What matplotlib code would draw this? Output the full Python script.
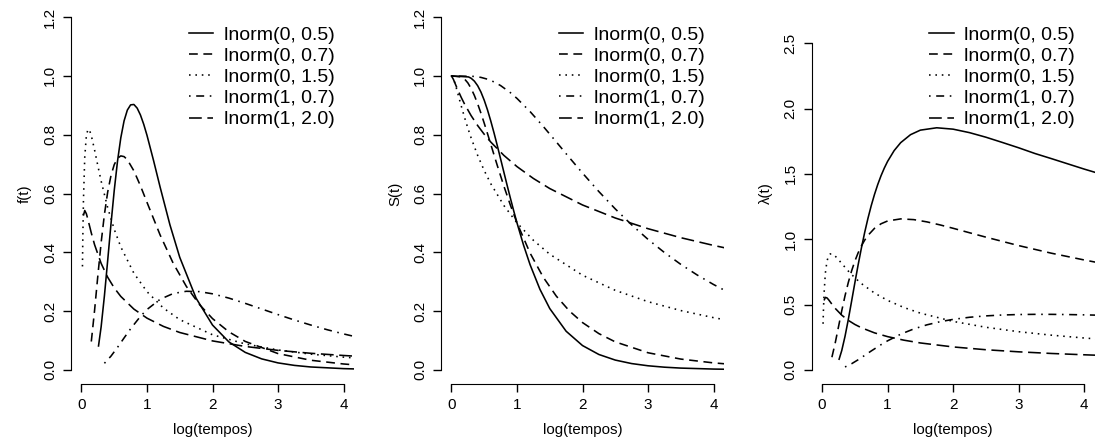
import matplotlib
matplotlib.use('Agg')
import matplotlib.pyplot as plt

plt.rcParams['font.family'] = ['Liberation Sans', 'DejaVu Sans']

rotulos = ['lnorm(0, 0.5)', 'lnorm(0, 0.7)', 'lnorm(0, 1.5)', 'lnorm(1, 0.7)', 'lnorm(1, 2.0)']

# lnorm(0, 0.5)
t_a = [0.26, 0.3, 0.35, 0.4, 0.45, 0.5, 0.55, 0.6, 0.65, 0.7, 0.75, 0.8, 0.85, 0.9, 0.95, 1.0,
       1.1, 1.2, 1.35, 1.5, 1.75, 2.0, 2.25, 2.5, 2.75, 3.0, 3.25, 3.5, 4.0, 4.2]
f_a = [0.0814, 0.1465, 0.2517, 0.3721, 0.4953, 0.6104, 0.7099, 0.7891, 0.8469, 0.8837, 0.9015,
       0.9028, 0.8904, 0.8671, 0.8355, 0.7979, 0.7123, 0.6221, 0.4936, 0.3829, 0.2437, 0.1526,
       0.0952, 0.0595, 0.0375, 0.0238, 0.0153, 0.0099, 0.0043, 0.0031]
s_a = [0.9965, 0.9920, 0.9821, 0.9666, 0.9449, 0.9172, 0.8841, 0.8465, 0.8056, 0.7622, 0.7175,
       0.6723, 0.6274, 0.5834, 0.5409, 0.5, 0.4244, 0.3577, 0.2742, 0.2087, 0.1315, 0.0828,
       0.0524, 0.0334, 0.0215, 0.0140, 0.0092, 0.0061, 0.0028, 0.0021]
h_a = [0.0817, 0.1477, 0.2563, 0.3850, 0.5242, 0.6656, 0.8030, 0.9321, 1.0513, 1.1594, 1.2565,
       1.3428, 1.4192, 1.4862, 1.5447, 1.5958, 1.6783, 1.7392, 1.8002, 1.8349, 1.853, 1.8424,
       1.8158, 1.781, 1.741, 1.700, 1.656, 1.617, 1.537, 1.507]

# lnorm(0, 0.7)
t_b = [0.15, 0.2, 0.25, 0.3, 0.35, 0.4, 0.45, 0.5, 0.55, 0.6, 0.65, 0.7, 0.8, 0.9, 1.0, 1.2,
       1.4, 1.6, 1.8, 2.0, 2.25, 2.5, 3.0, 3.5, 4.0, 4.2]
f_b = [0.0965, 0.2028, 0.3208, 0.4328, 0.5288, 0.6049, 0.6607, 0.6982, 0.7196, 0.7279, 0.7255,
       0.7150, 0.6771, 0.6261, 0.5699, 0.4591, 0.3627, 0.2843, 0.2225, 0.1745, 0.1295, 0.0968,
       0.0555, 0.0328, 0.0201, 0.0166]
s_b = [0.9966, 0.9893, 0.9762, 0.9573, 0.9332, 0.9047, 0.8730, 0.8390, 0.8035, 0.7672, 0.7309,
       0.6948, 0.6250, 0.5599, 0.5, 0.3973, 0.3154, 0.2510, 0.2005, 0.1610, 0.1234, 0.0953,
       0.0583, 0.0368, 0.0238, 0.0202]
h_b = [0.0969, 0.2050, 0.3286, 0.4521, 0.5667, 0.6686, 0.7568, 0.8322, 0.8956, 0.9488, 0.9927,
       1.0291, 1.0833, 1.1183, 1.1398, 1.1556, 1.1501, 1.1328, 1.1097, 1.0838, 1.0497, 1.0160,
       0.9514, 0.8931, 0.8414, 0.822]

# lnorm(0, 1.5)
t_c = [0.015, 0.02, 0.03, 0.05, 0.075, 0.1, 0.125, 0.15, 0.2, 0.25, 0.3, 0.4, 0.5, 0.6, 0.8,
       1.0, 1.25, 1.5, 2.0, 2.5, 3.0, 3.5, 4.0, 4.2]
f_c = [0.3519, 0.4435, 0.5767, 0.7241, 0.7982, 0.8188, 0.8139, 0.7969, 0.7479, 0.6941, 0.6424,
       0.5517, 0.4781, 0.4183, 0.3288, 0.2660, 0.2104, 0.1709, 0.1195, 0.0883, 0.0678, 0.0536,
       0.0434, 0.0401]
s_c = [0.9974, 0.9955, 0.9903, 0.9771, 0.9579, 0.9376, 0.9172, 0.8970, 0.8583, 0.8223, 0.7889,
       0.7294, 0.6780, 0.6333, 0.5591, 0.5, 0.4409, 0.3935, 0.3220, 0.2706, 0.2320, 0.2018,
       0.1777, 0.1694]
h_c = [0.3528, 0.4455, 0.5823, 0.7411, 0.8333, 0.8733, 0.8874, 0.8884, 0.8713, 0.8441, 0.8143,
       0.7564, 0.7051, 0.6606, 0.5881, 0.5319, 0.4772, 0.4344, 0.3711, 0.3262, 0.2923, 0.2657,
       0.2441, 0.2366]

# lnorm(1, 0.7)
t_d = [0.35, 0.45, 0.55, 0.65, 0.75, 0.9, 1.0, 1.2, 1.4, 1.6, 1.8, 2.0, 2.25, 2.5, 2.75, 3.0,
       3.25, 3.5, 3.75, 4.0, 4.2]
f_d = [0.0224, 0.0467, 0.0766, 0.1086, 0.1399, 0.1820, 0.2054, 0.2401, 0.2598, 0.2674, 0.2662,
       0.2588, 0.2442, 0.2263, 0.2072, 0.1881, 0.1697, 0.1526, 0.1367, 0.1224, 0.1119]
s_d = [0.9983, 0.9949, 0.9888, 0.9795, 0.9671, 0.9429, 0.9234, 0.8786, 0.8284, 0.7755, 0.7220,
       0.6695, 0.6065, 0.5476, 0.4934, 0.4440, 0.3993, 0.3590, 0.3229, 0.2905, 0.2671]
h_d = [0.0224, 0.0469, 0.0774, 0.1108, 0.1447, 0.1930, 0.2225, 0.2733, 0.3136, 0.3448, 0.3687,
       0.3866, 0.4027, 0.4133, 0.4200, 0.4237, 0.4251, 0.4250, 0.4235, 0.4212, 0.4188]

# lnorm(1, 2.0)
t_e = [0.03, 0.05, 0.075, 0.1, 0.15, 0.2, 0.3, 0.4, 0.5, 0.6, 0.8, 1.0, 1.25, 1.5, 2.0, 2.5,
       3.0, 3.5, 4.0, 4.2]
f_e = [0.5251, 0.5422, 0.5309, 0.5102, 0.4657, 0.4258, 0.3623, 0.3151, 0.2788, 0.2499, 0.2068,
       0.1760, 0.1480, 0.1272, 0.0986, 0.0797, 0.0664, 0.0565, 0.0490, 0.0464]
s_e = [0.9879, 0.9771, 0.9637, 0.9507, 0.9263, 0.9040, 0.8648, 0.8310, 0.8014, 0.7750, 0.7296,
       0.6915, 0.6512, 0.6169, 0.5610, 0.5167, 0.4803, 0.4497, 0.4234, 0.4139]
h_e = [0.5315, 0.5549, 0.5509, 0.5367, 0.5028, 0.4710, 0.4190, 0.3792, 0.3479, 0.3225, 0.2834,
       0.2546, 0.2273, 0.2062, 0.1757, 0.1543, 0.1383, 0.1257, 0.1156, 0.1121]

# a sobrevivencia comeca em t = 0 com S = 1
t0 = [0.0]
s0 = [1.0]

tempos = [t_a, t_b, t_c, t_d, t_e]
densidades = [f_a, f_b, f_c, f_d, f_e]
sobrevivencias = [s_a, s_b, s_c, s_d, s_e]
riscos = [h_a, h_b, h_c, h_d, h_e]

estilos = ['-', (0, (5.5, 3.5)), (0, (1, 3)), (0, (1, 3.5, 5, 3.5)), (0, (8, 3.5))]

fig = plt.figure(figsize=(10.95, 4.43), dpi=100)
W, H = 1095.0, 443.0


def painel(x_esq, ylim, yticks, ylab):
    ax = fig.add_axes([x_esq / W, (H - 384) / H, 283 / W, 381 / H])
    ax.set_xlim(-0.16, 4.16)
    ax.set_ylim(*ylim)
    for lado in ['top', 'right']:
        ax.spines[lado].set_visible(False)
    ax.spines['left'].set_bounds(yticks[0], yticks[-1])
    ax.spines['bottom'].set_bounds(0, 4)
    ax.set_xticks([0, 1, 2, 3, 4])
    ax.set_yticks(yticks)
    ax.set_yticklabels([f'{v:.1f}' for v in yticks], rotation=90, va='center')
    ax.tick_params(length=6, width=1, labelsize=11, pad=4)
    ax.set_xlabel('log(tempos)', fontsize=10.8, labelpad=8)
    ax.set_ylabel(ylab, fontsize=10.8, labelpad=8)
    return ax


ax1 = painel(71, (-0.048, 1.248), [0.0, 0.2, 0.4, 0.6, 0.8, 1.0, 1.2], 'f(t)')
ax2 = painel(441, (-0.048, 1.248), [0.0, 0.2, 0.4, 0.6, 0.8, 1.0, 1.2], 'S(t)')
ax3 = painel(811.6, (-0.108, 2.808), [0.0, 0.5, 1.0, 1.5, 2.0, 2.5], 'λ(t)')

for t, f, s, h, ls, rot in zip(tempos, densidades, sobrevivencias, riscos, estilos, rotulos):
    ax1.plot(t, f, color='black', lw=1.15, linestyle=ls, label=rot)
    ax2.plot(t0 + t, s0 + s, color='black', lw=1.15, linestyle=ls, label=rot)
    ax3.plot(t, h, color='black', lw=1.15, linestyle=ls, label=rot)

for ax in [ax1, ax2, ax3]:
    ax.legend(loc='upper right', bbox_to_anchor=(1.0, 0.99), frameon=False, fontsize=14,
              handlelength=1.25, handletextpad=0.55, labelspacing=0.18, borderaxespad=0.6)

fig.savefig('out.png', dpi=100)
